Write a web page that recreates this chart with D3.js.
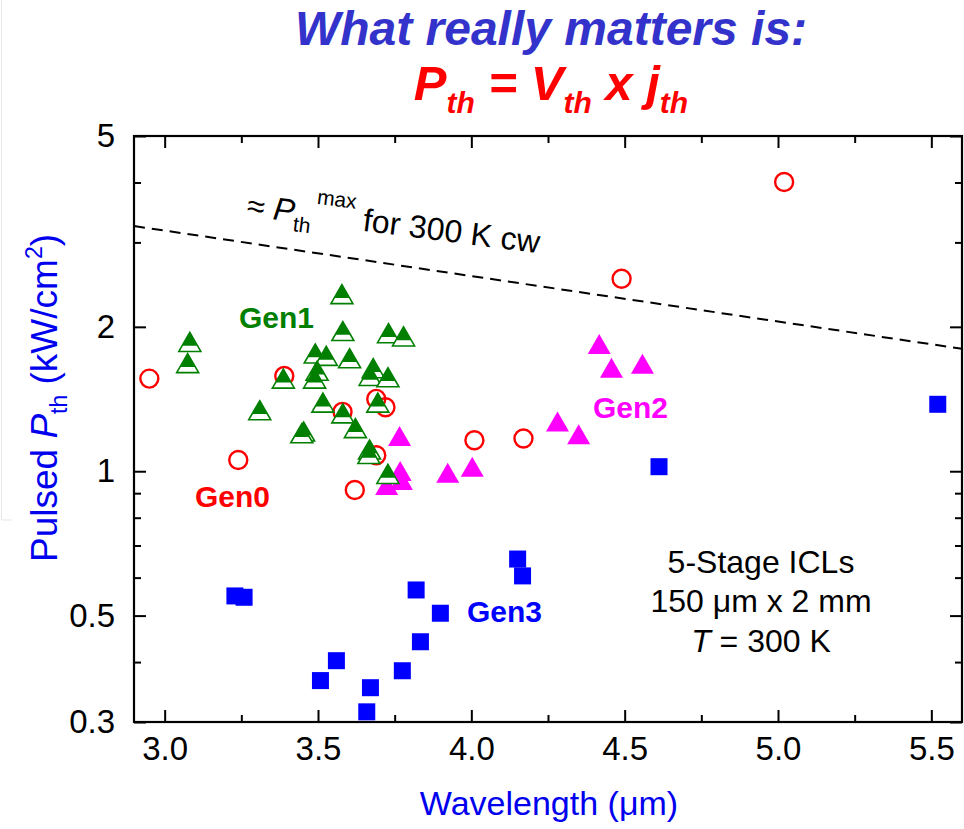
<!DOCTYPE html>
<html>
<head>
<meta charset="utf-8">
<script src="https://cdn.jsdelivr.net/npm/d3@7"></script>
<style>
  body { margin: 0; background: #fff; }
  svg { display: block; }
</style>
</head>
<body>
<svg id="chart" width="964" height="829"></svg>
<script>
// ---- data: pulsed threshold power density vs. wavelength ----
// Gen0 (open red circles)
const gen0Wavelength = [2.95, 3.24, 3.39, 3.58, 3.69, 3.72, 3.69, 3.62, 4.01, 4.17, 4.49, 5.02];
const gen0Pth        = [1.56, 1.055, 1.58, 1.33, 1.415, 1.36, 1.08, 0.914, 1.16, 1.17, 2.52, 4.01];

// Gen1 (green half-filled triangles)
const gen1Wavelength = [3.578, 3.581, 3.730, 3.779, 3.082, 3.075, 3.491, 3.527, 3.603, 3.497, 3.489,
                        3.680, 3.670, 3.728, 3.387, 3.516, 3.695, 3.310, 3.581, 3.622, 3.453, 3.447,
                        3.668, 3.666, 3.728];
const gen1Pth        = [2.34, 1.96, 1.94, 1.91, 1.86, 1.68, 1.76, 1.74, 1.72, 1.62, 1.56,
                        1.64, 1.58, 1.57, 1.56, 1.39, 1.39, 1.34, 1.32, 1.23, 1.21, 1.20,
                        1.11, 1.086, 0.987];

// Gen2 (filled magenta triangles)
const gen2Wavelength = [3.766, 3.768, 3.772, 3.724, 3.923, 4.003, 4.281, 4.350, 4.417, 4.457, 4.558];
const gen2Pth        = [1.184, 1.001, 0.959, 0.936, 0.993, 1.022, 1.269, 1.194, 1.842, 1.644, 1.676];

// Gen3 (filled blue squares)
const gen3Wavelength = [3.229, 3.259, 3.560, 3.508, 3.671, 3.659, 3.775, 3.820, 3.834, 3.899, 4.151, 4.167, 4.612, 5.521];
const gen3Pth        = [0.5495, 0.546, 0.4027, 0.366, 0.3537, 0.315, 0.3837, 0.5655, 0.441, 0.5057, 0.656, 0.605, 1.022, 1.379];

// approximate maximum Pth for 300 K cw operation (dashed guide)
const cwLimitWavelength = [2.9, 5.6];
const cwLimitPth        = [3.245, 1.80];

// axis ticks
const xMajorTicks = [3.0, 3.5, 4.0, 4.5, 5.0, 5.5];
const xMinorTicks = [3.25, 3.75, 4.25, 4.75, 5.25];
const yMajorTicks = [0.3, 0.5, 1, 2, 5];
const yMinorTicks = [0.4, 0.6, 0.7, 0.8, 0.9, 3, 4];

// ---- drawing ----
const FONT = '"Liberation Sans", Arial, Helvetica, sans-serif';
const GREEN = '#007f00', MAGENTA = '#ff00ff', BLUE = '#0000ff', RED = '#ff0000';

const svg = d3.select('#chart').style('font-family', FONT);
svg.append('rect').attr('width', 964).attr('height', 829).attr('fill', '#fff');

// faint slide edge on the left
svg.append('path').attr('d', 'M1.5,0V520H12').attr('fill', 'none')
  .attr('stroke', '#e6e6e6').attr('stroke-width', 1);

const x = d3.scaleLinear().domain([2.9, 5.6]).range([134, 962]);
const y = d3.scaleLog().domain([0.3, 5]).range([722, 136]);

// title
svg.append('text').attr('x', 551).attr('y', 45)
  .attr('text-anchor', 'middle').attr('font-size', 48).attr('font-weight', 'bold')
  .attr('font-style', 'italic').attr('fill', '#3333cc')
  .text('What really matters is:');

const title2 = svg.append('text').attr('x', 551).attr('y', 100)
  .attr('text-anchor', 'middle').attr('font-size', 49).attr('font-weight', 'bold')
  .attr('font-style', 'italic').attr('fill', RED);
[['P', 0, 49], ['th', 13, 30], [' = V', -13, 49], ['th', 13, 30], [' x j', -13, 49], ['th', 13, 30]]
  .forEach(([t, dy, fs]) => title2.append('tspan').attr('dy', dy).attr('font-size', fs).text(t));

// axes with inward ticks on all four sides
function styleAxis(g) {
  g.select('.domain').remove();
  g.selectAll('.tick line').attr('stroke', '#000').attr('stroke-width', 2);
  g.selectAll('.tick text').attr('fill', '#000').attr('font-size', 33).attr('font-family', FONT);
}
const fmtX = d3.format('.1f');
const fmtY = d => String(d);

svg.append('g').attr('transform', `translate(0,${y.range()[0]})`)
  .call(d3.axisBottom(x).tickValues(xMajorTicks).tickSize(-12).tickPadding(15).tickFormat(fmtX))
  .call(styleAxis);
svg.append('g').attr('transform', `translate(0,${y.range()[0]})`)
  .call(d3.axisBottom(x).tickValues(xMinorTicks).tickSize(-7).tickFormat(''))
  .call(styleAxis);
svg.append('g').attr('transform', `translate(0,${y.range()[1]})`)
  .call(d3.axisTop(x).tickValues(xMajorTicks).tickSize(-12).tickFormat(''))
  .call(styleAxis);
svg.append('g').attr('transform', `translate(0,${y.range()[1]})`)
  .call(d3.axisTop(x).tickValues(xMinorTicks).tickSize(-7).tickFormat(''))
  .call(styleAxis);

svg.append('g').attr('transform', `translate(${x.range()[0]},0)`)
  .call(d3.axisLeft(y).tickValues(yMajorTicks).tickSize(-12).tickPadding(19).tickFormat(fmtY))
  .call(styleAxis);
svg.append('g').attr('transform', `translate(${x.range()[0]},0)`)
  .call(d3.axisLeft(y).tickValues(yMinorTicks).tickSize(-7).tickFormat(''))
  .call(styleAxis);
svg.append('g').attr('transform', `translate(${x.range()[1]},0)`)
  .call(d3.axisRight(y).tickValues(yMajorTicks).tickSize(-12).tickFormat(''))
  .call(styleAxis);
svg.append('g').attr('transform', `translate(${x.range()[1]},0)`)
  .call(d3.axisRight(y).tickValues(yMinorTicks).tickSize(-7).tickFormat(''))
  .call(styleAxis);

// plot frame
svg.append('rect')
  .attr('x', x.range()[0]).attr('y', y.range()[1])
  .attr('width', x.range()[1] - x.range()[0]).attr('height', y.range()[0] - y.range()[1])
  .attr('fill', 'none').attr('stroke', '#000').attr('stroke-width', 2.2);

// axis titles
const xTitle = svg.append('text').attr('x', 549).attr('y', 815)
  .attr('text-anchor', 'middle').attr('font-size', 34).attr('fill', '#0000ee');
xTitle.append('tspan').text('Wavelength (');
xTitle.append('tspan').text('μ');
xTitle.append('tspan').text('m)');

const yTitle = svg.append('text').attr('transform', 'translate(57,398) rotate(-90)')
  .attr('text-anchor', 'middle').attr('font-size', 37).attr('fill', '#0000ee');
yTitle.append('tspan').text('Pulsed ');
yTitle.append('tspan').attr('font-style', 'italic').text('P');
yTitle.append('tspan').attr('font-size', 23).attr('dy', 10).text('th');
yTitle.append('tspan').attr('dy', -10).text(' (kW/cm');
yTitle.append('tspan').attr('font-size', 23).attr('dy', -15).text('2');
yTitle.append('tspan').attr('dy', 15).text(')');

// dashed cw limit
svg.append('line')
  .attr('x1', x(cwLimitWavelength[0])).attr('y1', y(cwLimitPth[0]))
  .attr('x2', x(cwLimitWavelength[1])).attr('y2', y(cwLimitPth[1]))
  .attr('stroke', '#000').attr('stroke-width', 2).attr('stroke-dasharray', '11,7');

const cwAngle = Math.atan2(y(cwLimitPth[1]) - y(cwLimitPth[0]), x(cwLimitWavelength[1]) - x(cwLimitWavelength[0])) * 180 / Math.PI;
const cwLabel = svg.append('text').attr('transform', `translate(246,216) rotate(${cwAngle - 1.2})`)
  .attr('font-size', 32).attr('fill', '#000');
cwLabel.append('tspan').text('≈ ');
cwLabel.append('tspan').attr('font-style', 'italic').text('P');
cwLabel.append('tspan').attr('font-size', 21).attr('dy', 9).text('th');
cwLabel.append('tspan').attr('font-size', 21).attr('dy', -30).attr('dx', 3).text('max');
cwLabel.append('tspan').attr('dy', 21).text(' for 300 K cw');

// markers
const TW = 22, TH = 19;
function triPath(cx, cy, w, h) {
  return `M${cx},${cy - h / 2}L${cx + w / 2},${cy + h / 2}L${cx - w / 2},${cy + h / 2}Z`;
}
function topTriPath(cx, cy, w, h, f) {
  const top = cy - h / 2;
  return `M${cx},${top}L${cx + w * f / 2},${top + h * f}L${cx - w * f / 2},${top + h * f}Z`;
}

// Gen3 squares
const SQ = 17;
svg.append('g').selectAll('rect').data(d3.zip(gen3Wavelength, gen3Pth)).join('rect')
  .attr('x', d => x(d[0]) - SQ / 2).attr('y', d => y(d[1]) - SQ / 2)
  .attr('width', SQ).attr('height', SQ).attr('fill', BLUE);

// Gen2 triangles
svg.append('g').selectAll('path').data(d3.zip(gen2Wavelength, gen2Pth)).join('path')
  .attr('d', d => triPath(x(d[0]), y(d[1]), 23, 20)).attr('fill', MAGENTA);

// Gen0 circles
svg.append('g').selectAll('circle').data(d3.zip(gen0Wavelength, gen0Pth)).join('circle')
  .attr('cx', d => x(d[0])).attr('cy', d => y(d[1])).attr('r', 9)
  .attr('fill', 'none').attr('stroke', RED).attr('stroke-width', 2.4);

// Gen1 half-filled triangles
const g1 = svg.append('g').selectAll('g').data(d3.zip(gen1Wavelength, gen1Pth)).join('g');
g1.append('path').attr('d', d => triPath(x(d[0]), y(d[1]), TW, TH))
  .attr('fill', '#fff').attr('stroke', GREEN).attr('stroke-width', 1.6);
g1.append('path').attr('d', d => topTriPath(x(d[0]), y(d[1]), TW, TH, 0.7))
  .attr('fill', GREEN);

// generation labels
const genLabels = [
  { text: 'Gen1', x: 239, y: 328, color: GREEN },
  { text: 'Gen0', x: 195, y: 507, color: RED },
  { text: 'Gen2', x: 593, y: 418, color: MAGENTA },
  { text: 'Gen3', x: 467, y: 622, color: BLUE }
];
svg.append('g').selectAll('text').data(genLabels).join('text')
  .attr('x', d => d.x).attr('y', d => d.y).attr('fill', d => d.color)
  .attr('font-size', 30).attr('font-weight', 'bold').text(d => d.text);

// device description
const desc = svg.append('g').attr('font-size', 32).attr('fill', '#000').attr('text-anchor', 'middle');
desc.append('text').attr('x', 761).attr('y', 573).text('5-Stage ICLs');
desc.append('text').attr('x', 761).attr('y', 612).text('150 μm x 2 mm');
const tLine = desc.append('text').attr('x', 761).attr('y', 652);
tLine.append('tspan').attr('font-style', 'italic').text('T');
tLine.append('tspan').text(' = 300 K');
</script>
</body>
</html>
